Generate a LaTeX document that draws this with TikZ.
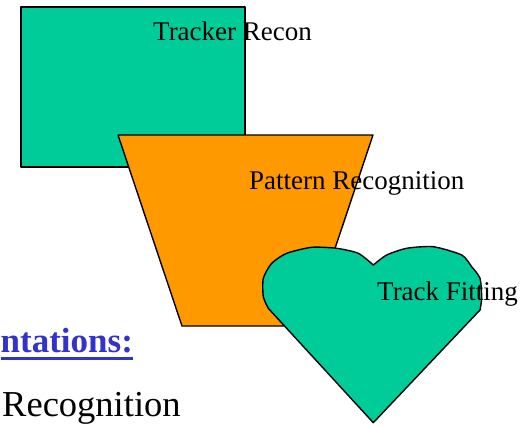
\documentclass[tikz,border=0pt]{standalone}
\usepackage{fontspec}
\setmainfont{Liberation Serif}
\definecolor{seagreen}{HTML}{00CC99}
\definecolor{amber}{HTML}{FF9900}
\definecolor{linkblue}{HTML}{3333CC}
\begin{document}
\begin{tikzpicture}[x=1pt,y=-1pt,
  outlined/.style={draw=black,line width=1.4pt,line join=round},
  stagetext/.style={inner sep=0pt,anchor=base west,font=\fontsize{27}{30}\selectfont},
  bigtext/.style={inner sep=0pt,anchor=base west,font=\fontsize{36.5}{40}\selectfont}]
\useasboundingbox (0,0) rectangle (522,424);

% stage boxes
\draw[outlined,fill=seagreen] (21,7) rectangle (245,167);
\draw[outlined,fill=amber] (118,135) -- (373,135) -- (309,326) -- (182,326) -- cycle;
\draw[outlined,fill=seagreen]
  (373.3,265)
  -- plot[smooth,tension=0.4] coordinates {(373.3,265) (358.3,253.3) (336.7,248.3)
      (311.7,247.3) (286.7,253.3) (271.7,263.3) (263.3,278.3) (263.3,296.7) (268.3,308.3)}
  -- (373.3,422.7) -- (480,310)
  -- plot[smooth,tension=0.4] coordinates {(480,310) (481.7,298) (480,278.3)
      (471.7,266.7) (461.7,255) (433.3,246.7) (406.7,248.3) (386.7,255) (373.3,265)}
  -- cycle;

% labels
\node[stagetext] (tracker) at (153,40) {Tracker Recon};
\node[stagetext] (pattern) at (249,189) {Pattern Recognition};
\node[stagetext] (fitting) at (377,300) {Track Fitting};
\node[bigtext,font=\fontsize{35}{40}\selectfont\bfseries,text=linkblue] (impl) at (0.5,352) {ntations:};
\draw[linkblue,line width=2.2pt] (impl.base west |- 0,358.5) -- (impl.base east |- 0,358.5);
\node[bigtext] (recog) at (2,416) {Recognition};
\end{tikzpicture}
\end{document}
